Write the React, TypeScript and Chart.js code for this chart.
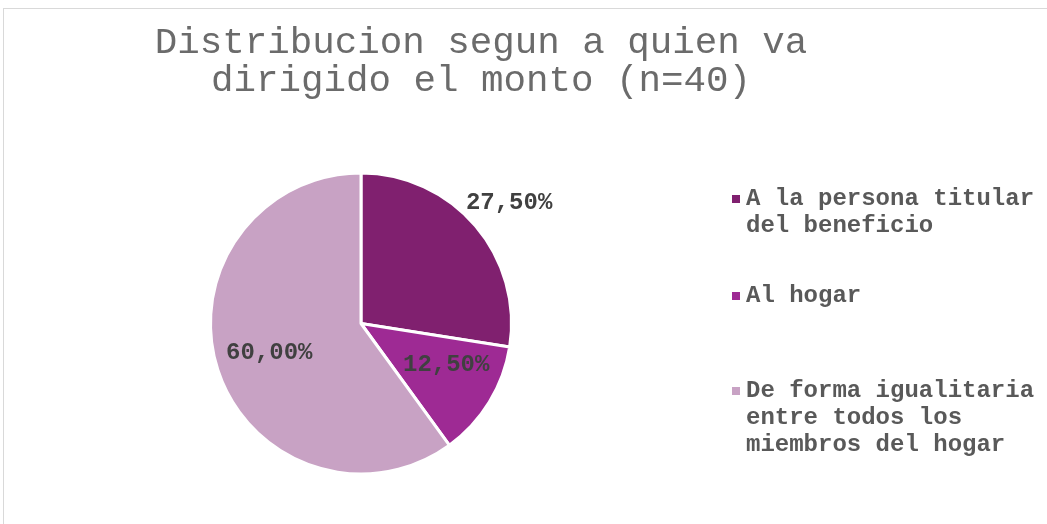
import React, { useEffect, useRef } from "react";
import { Chart, registerables } from "chart.js";

Chart.register(...registerables);

const titleLines = ["Distribucion segun a quien va", "dirigido el monto (n=40)"];
const categories = [
  ["A la persona titular", "del beneficio"],
  ["Al hogar"],
  ["De forma igualitaria", "entre todos los", "miembros del hogar"],
];
const values = [27.5, 12.5, 60.0];
const valueLabels = ["27,50%", "12,50%", "60,00%"];
const colors = ["#80206F", "#9E2A94", "#C8A2C4"];

const FONT = "'Liberation Mono', 'DejaVu Sans Mono', monospace";

// label placement (radius factor, angle shift in degrees)
const labelRadius = [1.27, 0.63, 0.64];
const labelShift = [1.3, -5.5, 0.2];
const legendItemY = [199, 296, 391];

const decorPlugin = {
  id: "decor",
  beforeDraw(chart: any) {
    const ctx = chart.ctx;
    ctx.save();
    ctx.fillStyle = "#ffffff";
    ctx.fillRect(0, 0, chart.width, chart.height);
    ctx.strokeStyle = "#d9d9d9";
    ctx.lineWidth = 1;
    ctx.strokeRect(3.5, 8.5, 2000, 2000);
    ctx.restore();
  },
  afterDraw(chart: any) {
    const ctx = chart.ctx;
    ctx.save();
    // title
    ctx.font = `37.5px ${FONT}`;
    ctx.fillStyle = "#6b6b6b";
    ctx.textAlign = "center";
    ctx.textBaseline = "middle";
    titleLines.forEach((l, i) => ctx.fillText(l, 481, 43 + i * 38.5));

    // data labels
    const meta = chart.getDatasetMeta(0);
    ctx.font = `bold 24px ${FONT}`;
    ctx.fillStyle = "#404040";
    meta.data.forEach((arc: any, i: number) => {
      const p = arc.getProps(["x", "y", "startAngle", "endAngle", "outerRadius"], true);
      const mid = (p.startAngle + p.endAngle) / 2 + (labelShift[i] * Math.PI) / 180;
      const r = p.outerRadius * labelRadius[i];
      ctx.fillText(valueLabels[i], p.x + Math.cos(mid) * r, p.y + Math.sin(mid) * r);
    });

    // legend
    ctx.textAlign = "left";
    ctx.font = `bold 24px ${FONT}`;
    categories.forEach((lines, i) => {
      const y0 = legendItemY[i];
      ctx.fillStyle = colors[i];
      ctx.fillRect(732, y0 - 4, 8, 8);
      ctx.fillStyle = "#595959";
      lines.forEach((t, j) => ctx.fillText(t, 746, y0 + j * 27));
    });
    ctx.restore();
  },
};

export default function App() {
  const ref = useRef<HTMLCanvasElement>(null);
  useEffect(() => {
    document.body.style.margin = "0";
    const chart = new Chart(ref.current!, {
      type: "pie",
      data: {
        labels: categories.map((c) => c.join(" ")),
        datasets: [
          {
            data: values,
            backgroundColor: colors,
            borderColor: "#ffffff",
            borderWidth: 3,
          },
        ],
      },
      options: {
        responsive: false,
        animation: false,
        devicePixelRatio: 1,
        layout: { padding: { left: 209, right: 534, top: 171, bottom: 48 } },
        plugins: {
          legend: { display: false },
          title: { display: false },
          tooltip: { enabled: false },
        },
      },
      plugins: [decorPlugin],
    });
    return () => chart.destroy();
  }, []);
  return (
    <canvas
      ref={ref}
      width={1047}
      height={524}
      style={{ display: "block", width: 1047, height: 524 }}
    />
  );
}
